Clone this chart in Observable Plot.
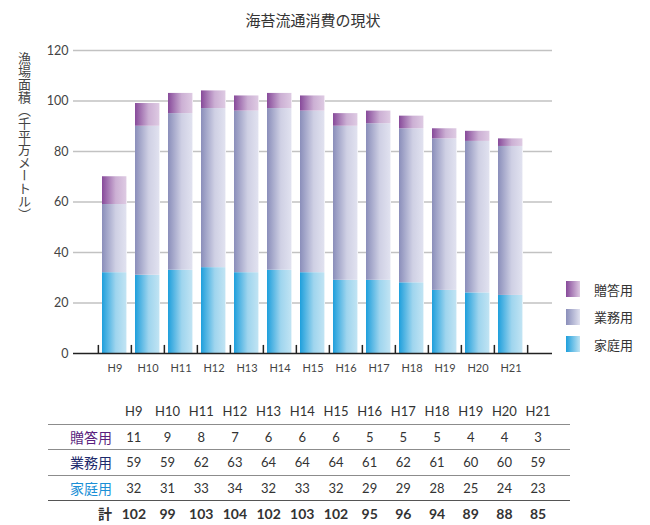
<!DOCTYPE html>
<html>
<head>
<meta charset="utf-8">
<script src="https://cdn.jsdelivr.net/npm/d3@7"></script>
<script src="https://cdn.jsdelivr.net/npm/@observablehq/plot@0.6"></script>
<style>
  body { margin: 0; background: #fff; font-family: "Lato", "Noto Sans CJK JP", sans-serif; }
  #wrap { position: relative; width: 650px; height: 525px; overflow: hidden; }
  #title { position: absolute; left: 0; width: 626px; top: 9px; text-align: center;
           font-family: "Noto Sans CJK JP", sans-serif; font-size: 15px; color: #333; }
  #ylabel { position: absolute; left: 15px; top: 52px; writing-mode: vertical-rl;
            font-family: "Noto Sans CJK JP", sans-serif; font-size: 13px; color: #444; }
  #chart { position: absolute; left: 0; top: 0; }
  #legend { position: absolute; left: 566px; top: 281px; font-family: "Noto Sans CJK JP", sans-serif; font-size: 13px; color: #333; }
  .li { display: flex; align-items: center; height: 16px; margin-bottom: 11.7px; }
  .sw { width: 14px; height: 16px; margin-right: 14px; }
  #tbl { position: absolute; left: 48px; top: 399px; border-collapse: collapse; }
  #tbl td { height: 24.5px; padding: 0; text-align: center; font-size: 13px; color: #333; font-family: "Lato", "Noto Sans CJK JP", sans-serif; }
  #tbl td.lab { width: 64px; text-align: right; padding-right: 5px; font-family: "Noto Sans CJK JP", sans-serif; font-size: 14px; }
  #tbl td.num { width: 33.7px; }
  #tbl td.pad { width: 15px; }
  #tbl tr.line td { border-bottom: 1.5px solid #8c8c8c; }
  #tbl tr.dark td { border-bottom: 1.5px solid #555; }
  #tbl tr.tot td { font-weight: bold; font-size: 14px; color: #333; }
</style>
</head>
<body>
<div id="wrap">
  <div id="chart"></div>
  <div id="title">海苔流通消費の現状</div>
  <div id="ylabel">漁場面積（千平方メートル）</div>
  <div id="legend"></div>
  <table id="tbl"></table>
</div>
<script>
const years = ["H9","H10","H11","H12","H13","H14","H15","H16","H17","H18","H19","H20","H21"];
const seriesNames = ["贈答用","業務用","家庭用"];
// table values
const zoto  = [11, 9, 8, 7, 6, 6, 6, 5, 5, 5, 4, 4, 3];
const gyomu = [59, 59, 62, 63, 64, 64, 64, 61, 62, 61, 60, 60, 59];
const katei = [32, 31, 33, 34, 32, 33, 32, 29, 29, 28, 25, 24, 23];
const total = [102, 99, 103, 104, 102, 103, 102, 95, 96, 94, 89, 88, 85];
// bar segment heights as drawn in the picture (H9 business segment reaches only 59)
const gyomuBar = [27, 59, 62, 63, 64, 64, 64, 61, 62, 61, 60, 60, 59];
const yTicks = [0, 20, 40, 60, 80, 100, 120];

const grads = {
  "家庭用": ["gK", "#1e9fdc", "#bfe3f3"],
  "業務用": ["gG", "#8a8eba", "#e0e1ef"],
  "贈答用": ["gZ", "#874a9a", "#ddc9e2"]
};

const rows = [];
years.forEach((yr, i) => {
  rows.push({year: yr, series: "家庭用", value: katei[i]});
  rows.push({year: yr, series: "業務用", value: gyomuBar[i]});
  rows.push({year: yr, series: "贈答用", value: zoto[i]});
});

const mL = 73, mR = 98, inL = 22.7, inR = 23.7, W = 650;
const step = (W - mR - inR - mL - inL) / years.length;

const chart = Plot.plot({
  width: W, height: 385,
  marginLeft: mL, marginRight: mR, marginTop: 50, marginBottom: 32,
  style: {fontFamily: "Lato, 'Noto Sans CJK JP', sans-serif", fontSize: "12px", color: "#444", background: "transparent"},
  x: {domain: years, paddingInner: 0.25, paddingOuter: 0.125, insetLeft: inL, insetRight: inR, label: null, tickSize: 0, tickPadding: 11},
  y: {domain: [0, 120], ticks: yTicks, label: null, tickSize: 0, tickPadding: 5},
  color: {domain: ["家庭用","業務用","贈答用"], range: ["url(#gK)","url(#gG)","url(#gZ)"]},
  marks: [
    Plot.ruleY(yTicks.filter(d => d > 0), {stroke: "#c2c2c2", strokeWidth: 1.6}),
    Plot.barY(rows, {x: "year", y: "value", fill: "series"}),
    Plot.ruleY([0], {stroke: "#222", strokeWidth: 1.6}),
    Plot.ruleX(years, {x: d => d, y1: 0, y2: 3.2, dx: -step / 2, stroke: "#222", strokeWidth: 1.5}),
    Plot.ruleX([years[years.length - 1]], {x: d => d, y1: 0, y2: 3.2, dx: step / 2, stroke: "#222", strokeWidth: 1.5}),
    Plot.axisX({tickSize: 0, tickPadding: 11, fontSize: 11, fill: "#444"}),
    Plot.axisY(yTicks, {tickSize: 0, tickPadding: 5, fontSize: 12.5, fill: "#444"})
  ]
});

// gradient defs
const ns = "http://www.w3.org/2000/svg";
const defs = document.createElementNS(ns, "defs");
for (const k of Object.keys(grads)) {
  const [id, c0, c1] = grads[k];
  const lg = document.createElementNS(ns, "linearGradient");
  lg.setAttribute("id", id);
  lg.setAttribute("x1", "0"); lg.setAttribute("x2", "1"); lg.setAttribute("y1", "0"); lg.setAttribute("y2", "0");
  [[0, c0], [0.55, d3.interpolateRgb(c0, c1)(0.8)], [0.95, c1], [1, "#ffffff"]].forEach(([o, c]) => {
    const s = document.createElementNS(ns, "stop");
    s.setAttribute("offset", o); s.setAttribute("stop-color", c);
    lg.appendChild(s);
  });
  defs.appendChild(lg);
}
chart.insertBefore(defs, chart.firstChild);
document.getElementById("chart").appendChild(chart);

// legend
const legend = document.getElementById("legend");
seriesNames.forEach(name => {
  const [, c0, c1] = grads[name];
  const li = document.createElement("div"); li.className = "li";
  const sw = document.createElement("div"); sw.className = "sw";
  sw.style.background = `linear-gradient(to right, ${c0}, ${c1})`;
  const t = document.createElement("span"); t.textContent = name;
  li.appendChild(sw); li.appendChild(t); legend.appendChild(li);
});

// table
const tbl = document.getElementById("tbl");
const labColors = {"贈答用": "#5a1f7e", "業務用": "#1d2a6c", "家庭用": "#1a8fd6", "計": "#333"};
function addRow(label, vals, cls) {
  const tr = document.createElement("tr");
  if (cls) tr.className = cls;
  const td0 = document.createElement("td"); td0.className = "lab"; td0.textContent = label;
  if (label) td0.style.color = labColors[label];
  tr.appendChild(td0);
  vals.forEach(v => { const td = document.createElement("td"); td.className = "num"; td.textContent = v; tr.appendChild(td); });
  const tdp = document.createElement("td"); tdp.className = "pad"; tr.appendChild(tdp);
  tbl.appendChild(tr);
}
addRow("", years, "line");
addRow("贈答用", zoto, "line");
addRow("業務用", gyomu, "line");
addRow("家庭用", katei, "dark");
addRow("計", total, "tot");
</script>
</body>
</html>
